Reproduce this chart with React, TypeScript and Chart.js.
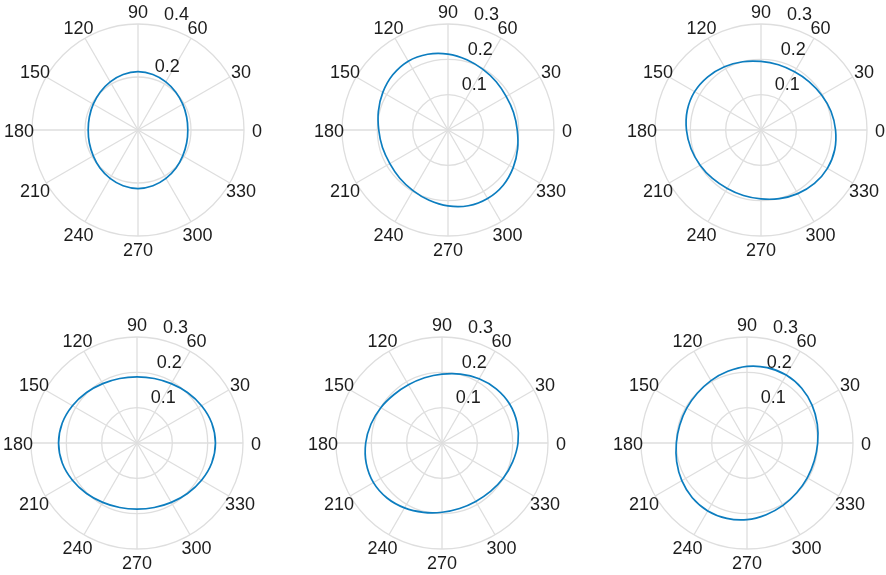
import React, { useEffect, useRef } from "react";
import { Chart, registerables } from "chart.js";

Chart.register(...registerables);

// Math angles (degrees, counter-clockwise from east) at which the curves are sampled
const ANGLES = [0, 15, 30, 45, 60, 75, 90, 105, 120, 135, 150, 165, 180, 195, 210, 225, 240, 255, 270, 285, 300, 315, 330, 345];
// Angle tick labels
const ANGLE_TICKS = [0, 30, 60, 90, 120, 150, 180, 210, 240, 270, 300, 330];
// Radial tick labels
const R_TICKS_04 = [0.2, 0.4];
const R_TICKS_03 = [0.1, 0.2, 0.3];

// Radius values at each angle in ANGLES, one array per panel
const SERIES_1 = [0.188, 0.19, 0.195, 0.202, 0.21, 0.217, 0.22, 0.217, 0.21, 0.202, 0.195, 0.19, 0.188, 0.19, 0.195, 0.203, 0.211, 0.218, 0.221, 0.218, 0.211, 0.203, 0.195, 0.19];
const SERIES_2 = [0.196, 0.192, 0.19, 0.193, 0.198, 0.206, 0.215, 0.222, 0.225, 0.221, 0.213, 0.204, 0.196, 0.192, 0.19, 0.193, 0.198, 0.206, 0.215, 0.222, 0.224, 0.221, 0.213, 0.204];
const SERIES_3 = [0.211, 0.205, 0.198, 0.193, 0.19, 0.191, 0.194, 0.2, 0.207, 0.213, 0.217, 0.216, 0.211, 0.205, 0.199, 0.194, 0.191, 0.192, 0.195, 0.201, 0.208, 0.214, 0.217, 0.216];
const SERIES_4 = [0.222, 0.219, 0.211, 0.202, 0.194, 0.189, 0.187, 0.189, 0.194, 0.202, 0.211, 0.219, 0.222, 0.219, 0.211, 0.202, 0.194, 0.189, 0.187, 0.189, 0.194, 0.202, 0.211, 0.219];
const SERIES_5 = [0.215, 0.22, 0.221, 0.217, 0.21, 0.202, 0.195, 0.191, 0.19, 0.193, 0.2, 0.208, 0.216, 0.222, 0.224, 0.22, 0.212, 0.203, 0.196, 0.192, 0.191, 0.194, 0.2, 0.207];
const SERIES_6 = [0.2, 0.206, 0.213, 0.219, 0.222, 0.221, 0.217, 0.21, 0.204, 0.199, 0.197, 0.197, 0.2, 0.206, 0.213, 0.219, 0.222, 0.221, 0.217, 0.21, 0.204, 0.199, 0.197, 0.197];

const FONT = '"Liberation Sans", Arial, Helvetica, sans-serif';
const FONT_SIZE = 18;
const TEXT_COLOR = "#1c1c1c";
const GRID_COLOR = "#dedede";
const LINE_COLOR = "#0c7dbf";

const CANVAS_W = 300;
const CANVAS_H = 290;
const RADIUS = 106;

const PANELS = [
  { series: SERIES_1, max: 0.4, step: 0.2, rTicks: R_TICKS_04, cx: 138, cy: 130 },
  { series: SERIES_2, max: 0.3, step: 0.1, rTicks: R_TICKS_03, cx: 448, cy: 130 },
  { series: SERIES_3, max: 0.3, step: 0.1, rTicks: R_TICKS_03, cx: 761, cy: 130 },
  { series: SERIES_4, max: 0.3, step: 0.1, rTicks: R_TICKS_03, cx: 137, cy: 443 },
  { series: SERIES_5, max: 0.3, step: 0.1, rTicks: R_TICKS_03, cx: 442, cy: 443 },
  { series: SERIES_6, max: 0.3, step: 0.1, rTicks: R_TICKS_03, cx: 747, cy: 443 },
];

const STEP = 15;
const N = ANGLES.length;
// radar index i runs clockwise from east: math angle = (360 - i*STEP) % 360
const radarIndexOf = (mathAngle: number) => ((360 - mathAngle) % 360) / STEP;

const labelPlugin = {
  id: "polarLabels",
  afterDraw(chart: any, _args: any, opts: any) {
    const s = chart.scales.r;
    const ctx = chart.ctx;
    ctx.save();
    ctx.font = `${FONT_SIZE}px ${FONT}`;
    ctx.fillStyle = TEXT_COLOR;
    ctx.textAlign = "center";
    ctx.textBaseline = "middle";
    for (const a of ANGLE_TICKS) {
      const p = s.getPointPosition(radarIndexOf(a), s.drawingArea + 13);
      ctx.fillText(String(a), p.x, p.y + 2.5);
    }
    ctx.textAlign = "left";
    ctx.textBaseline = "alphabetic";
    const th = (80 * Math.PI) / 180;
    for (const v of opts.rTicks as number[]) {
      const d = s.getDistanceFromCenterForValue(v);
      const x = s.xCenter + d * Math.cos(th);
      const y = s.yCenter - d * Math.sin(th);
      ctx.fillText(v.toFixed(1), x + 7.5, y - 5.5);
    }
    ctx.restore();
  },
};

function Panel({ panel }: { panel: (typeof PANELS)[number] }) {
  const ref = useRef<HTMLCanvasElement | null>(null);
  useEffect(() => {
    if (!ref.current) return;
    const labels = ANGLES.map((_, i) => String((360 - i * STEP) % 360));
    const data = ANGLES.map((_, i) => panel.series[(N - i) % N]);
    const padX = CANVAS_W / 2 - RADIUS;
    const padY = CANVAS_H / 2 - RADIUS;
    const chart = new Chart(ref.current, {
      type: "radar",
      data: {
        labels,
        datasets: [
          {
            data,
            borderColor: LINE_COLOR,
            backgroundColor: "transparent",
            borderWidth: 1.7,
            pointRadius: 0,
            pointHoverRadius: 0,
            fill: false,
            tension: 0.33,
          },
        ],
      },
      options: {
        responsive: false,
        animation: false,
        devicePixelRatio: 1,
        layout: { padding: { left: padX, right: padX, top: padY, bottom: padY } },
        elements: { line: { capBezierPoints: false } },
        plugins: {
          legend: { display: false },
          tooltip: { enabled: false },
          polarLabels: { rTicks: panel.rTicks },
        } as any,
        scales: {
          r: {
            min: 0,
            max: panel.max,
            startAngle: 90,
            ticks: { display: false, stepSize: panel.step },
            pointLabels: { display: false },
            grid: { circular: true, color: GRID_COLOR, lineWidth: 1.3 },
            angleLines: {
              display: true,
              lineWidth: 1.3,
              color: (ctx: any) => (ANGLE_TICKS.includes((360 - ctx.index * STEP) % 360) ? GRID_COLOR : "transparent"),
            },
          },
        },
      } as any,
      plugins: [labelPlugin],
    });
    return () => chart.destroy();
  }, [panel]);

  return (
    <canvas
      ref={ref}
      width={CANVAS_W}
      height={CANVAS_H}
      style={{
        position: "absolute",
        left: panel.cx - CANVAS_W / 2,
        top: panel.cy - CANVAS_H / 2,
        width: CANVAS_W,
        height: CANVAS_H,
      }}
    />
  );
}

export default function App() {
  return (
    <div
      style={{
        position: "absolute",
        left: 0,
        top: 0,
        width: 886,
        height: 575,
        overflow: "hidden",
        background: "#ffffff",
      }}
    >
      {PANELS.map((p, i) => (
        <Panel key={i} panel={p} />
      ))}
    </div>
  );
}
